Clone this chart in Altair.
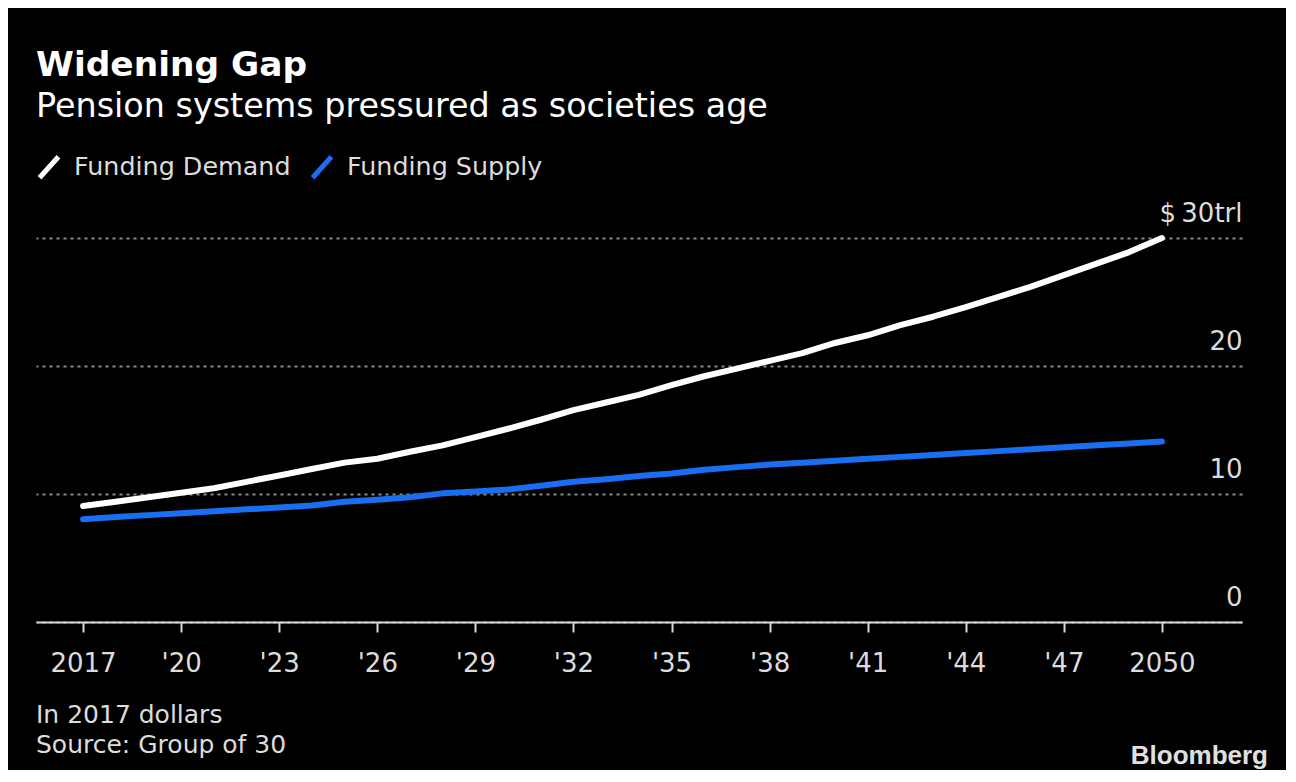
import altair as alt
import pandas as pd

years = list(range(2017, 2051))
demand = [9.06, 9.4, 9.75, 10.1, 10.45, 10.95, 11.45, 11.95, 12.45, 12.75,
          13.3, 13.8, 14.45, 15.1, 15.8, 16.55, 17.15, 17.75, 18.5, 19.2,
          19.8, 20.4, 21.0, 21.8, 22.4, 23.2, 23.85, 24.6, 25.4, 26.2,
          27.1, 28.0, 28.9, 30.0]
supply = [8.02, 8.2, 8.35, 8.5, 8.65, 8.8, 8.95, 9.1, 9.4, 9.55,
          9.75, 10.05, 10.2, 10.35, 10.65, 10.95, 11.15, 11.4, 11.6, 11.9,
          12.1, 12.3, 12.45, 12.6, 12.75, 12.9, 13.05, 13.2, 13.35, 13.5,
          13.65, 13.8, 13.95, 14.1]
series_names = ["Funding Demand", "Funding Supply"]
series_colors = ["#ffffff", "#1a6ef2"]
x_ticks = [2017, 2020, 2023, 2026, 2029, 2032, 2035, 2038, 2041, 2044, 2047, 2050]
y_ticks = [0, 10, 20, 30]

title_text = "Widening Gap"
subtitle_text = "Pension systems pressured as societies age"
note_text = "In 2017 dollars"
source_text = "Source: Group of 30"
brand_text = "Bloomberg"

df = pd.DataFrame({
    "year": years + years,
    "value": demand + supply,
    "series": [series_names[0]] * len(years) + [series_names[1]] * len(years),
})

W, H = 1206, 384
FONT = "DejaVu Sans"
LABEL = "#dcdcdc"

lines = alt.Chart(df).mark_line(strokeWidth=6, strokeCap="round", strokeJoin="round").encode(
    x=alt.X("year:Q",
            scale=alt.Scale(domain=[2015.56, 2052.45], nice=False, zero=False),
            axis=alt.Axis(values=x_ticks, title=None, grid=False,
                          labelExpr="datum.value == 2017 || datum.value == 2050 ? format(datum.value, 'd') : \"'\" + slice(format(datum.value, 'd'), 2)",
                          domainColor="#d8d8d8", domainWidth=2,
                          tickColor="#d8d8d8", tickWidth=2, tickSize=10,
                          labelFont=FONT, labelFontSize=26, labelColor=LABEL,
                          labelPadding=18, labelFlush=False, labelOverlap=False,
                          zindex=1)),
    y=alt.Y("value:Q",
            scale=alt.Scale(domain=[0, 30], nice=False),
            axis=alt.Axis(orient="right", values=y_ticks, title=None,
                          labelExpr="datum.value == 30 ? '$\u200930trl' : datum.label",
                          domain=False, ticks=False, grid=True,
                          gridColor="#8a8a8a", gridDash=[3, 4], gridWidth=1.8,
                          labelAlign="right", labelBaseline="alphabetic",
                          labelOffset=-17, labelPadding=0,
                          labelFont=FONT, labelFontSize=26, labelColor=LABEL,
                          labelOverlap=False, labelFlush=False)),
    color=alt.Color("series:N",
                    scale=alt.Scale(domain=series_names, range=series_colors),
                    legend=alt.Legend(orient="none", legendX=0, legendY=-84,
                                      direction="horizontal", title=None,
                                      symbolType="M-0.9,1L0.9,-1", symbolSize=441,
                                      symbolStrokeWidth=5,
                                      labelFont=FONT, labelFontSize=25.4, labelColor=LABEL,
                                      labelLimit=0, labelOffset=12, columnPadding=11,
                                      padding=0)),
)


def txt(s, x, y, size, weight="normal", font=FONT, color="#ffffff", align="left"):
    return alt.Chart(pd.DataFrame({"t": [s]})).mark_text(
        align=align, baseline="alphabetic", fontSize=size, fontWeight=weight,
        font=font, color=color,
    ).encode(text="t:N", x=alt.value(x), y=alt.value(y))


texts = [
    txt(title_text, 0, -162, 34.4, weight="bold"),
    txt(subtitle_text, 0, -121, 33.4),
    txt(note_text, 0, 485, 25, color=LABEL),
    txt(source_text, 0, 515, 25, color=LABEL),
    txt(brand_text, 1232, 526, 26, weight="bold", font="Liberation Sans", color="#e0e0e0", align="right"),
]

chart = alt.layer(lines, *texts).properties(
    width=W, height=H,
    padding={"left": 28, "top": 230, "right": 44, "bottom": 148},
    autosize=alt.AutoSizeParams(type="none"),
).configure(background="#000000").configure_view(stroke=None)

chart.save("out.html", embed_options={"renderer": "svg", "actions": False})
